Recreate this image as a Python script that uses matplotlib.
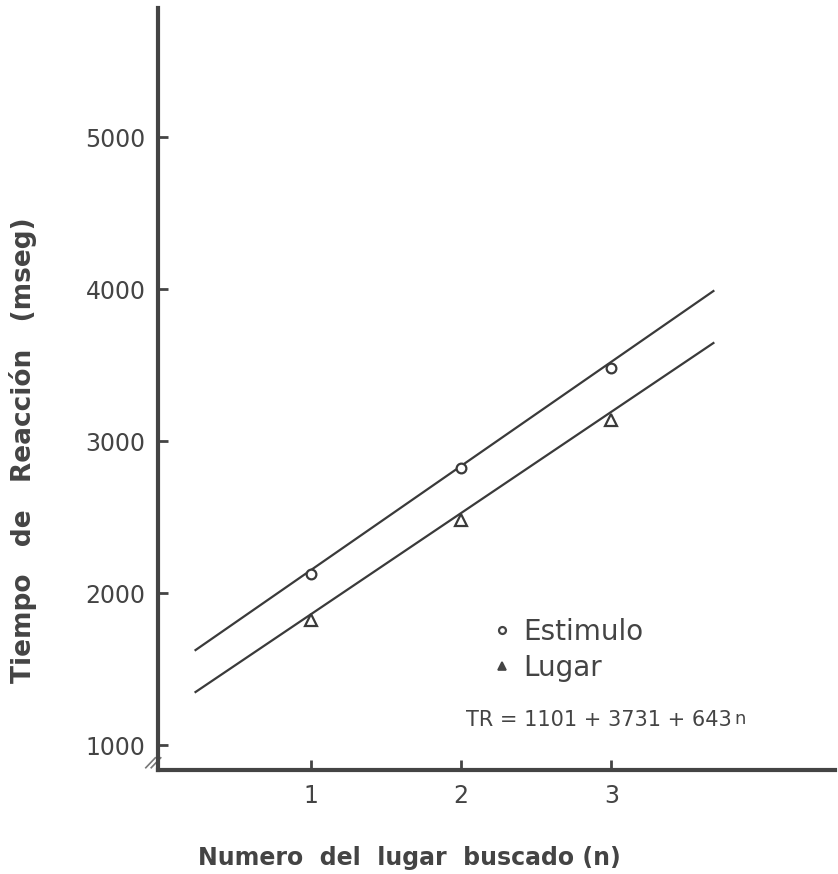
import matplotlib
matplotlib.use("Agg")
import matplotlib.pyplot as plt
from matplotlib.lines import Line2D

# ---- data ----
n_values = [1, 2, 3]
estimulo_tr = [2125, 2822, 3480]
lugar_tr = [1822, 2480, 3138]
fit_x = [0.23, 3.68]
estimulo_fit = [1625, 3987]
lugar_fit = [1349, 3645]
y_ticks = [1000, 2000, 3000, 4000, 5000]
x_ticks = [1, 2, 3]

plt.rcParams['font.family'] = ['DejaVu Sans']
txt = '#444444'
ink = '#3a3a3a'

W, H = 838, 874
fig = plt.figure(figsize=(W / 100, H / 100), dpi=100)
ax = fig.add_axes([158 / W, (H - 770) / H, (835 - 158) / W, (770 - 8) / H])
ax.set_xlim(-0.02, 4.49)
ax.set_ylim(836, 5849)

for s in ['top', 'right']:
    ax.spines[s].set_visible(False)
for s in ['left', 'bottom']:
    ax.spines[s].set_linewidth(3)
    ax.spines[s].set_color('#444444')

ax.plot(fit_x, estimulo_fit, color=ink, lw=1.6)
ax.plot(fit_x, lugar_fit, color=ink, lw=1.6)
ax.plot(n_values, estimulo_tr, 'o', ms=7, mfc='white', mec=ink, mew=1.6, label='Estimulo')
ax.plot(n_values, lugar_tr, '^', ms=8, mfc='white', mec=ink, mew=1.6, label='Lugar')

ax.set_yticks(y_ticks)
ax.set_yticklabels([str(v) for v in y_ticks])
ax.set_xticks(x_ticks)
ax.set_xticklabels([str(v) for v in x_ticks])
ax.tick_params(axis='both', direction='in', length=7, width=2, color='#444444',
               labelsize=17, labelcolor=txt)
ax.tick_params(axis='y', pad=9)
ax.tick_params(axis='x', pad=10)

xl = ax.set_xlabel('Numero  del  lugar  buscado (n)', fontsize=17, color=txt,
                   fontweight='bold')
xl.set_va('center')
ax.xaxis.set_label_coords(0.372, -0.115)
ax.set_ylabel('Tiempo   de   Reacción   (mseg)', fontsize=19, color=txt,
              fontweight='bold')
ax.yaxis.set_label_coords(-0.178, 0.42)

handles = [Line2D([], [], ls='none', marker='o', ms=5, mfc='white', mec=txt, mew=1.6),
           Line2D([], [], ls='none', marker='^', ms=6, mfc=txt, mec=txt, mew=1.2)]
leg = ax.legend(handles, ['Estimulo', 'Lugar'], loc='upper left',
                bbox_to_anchor=(0.496, 0.2), frameon=False, fontsize=20,
                handlelength=0.6, handletextpad=0.45, labelspacing=0.3,
                borderaxespad=0, borderpad=0)
for t in leg.get_texts():
    t.set_color(txt)

t1 = ax.text(0.455, 0.065, 'TR = 1101 + 3731 + 643', transform=ax.transAxes,
             fontsize=15, color=txt, va='center', ha='left')
ax.annotate('n', xy=(1, 0.55), xycoords=t1, xytext=(2, 0), textcoords='offset points',
            fontsize=13, color=txt, va='center', ha='left')

# axis break mark
for dx in (0.0, 0.008):
    ax.plot([-0.018 + dx, -0.004 + dx], [0.003, 0.016], transform=ax.transAxes,
            color='#777777', lw=1.2, clip_on=False)

fig.savefig('out.png', dpi=100, facecolor='white')
